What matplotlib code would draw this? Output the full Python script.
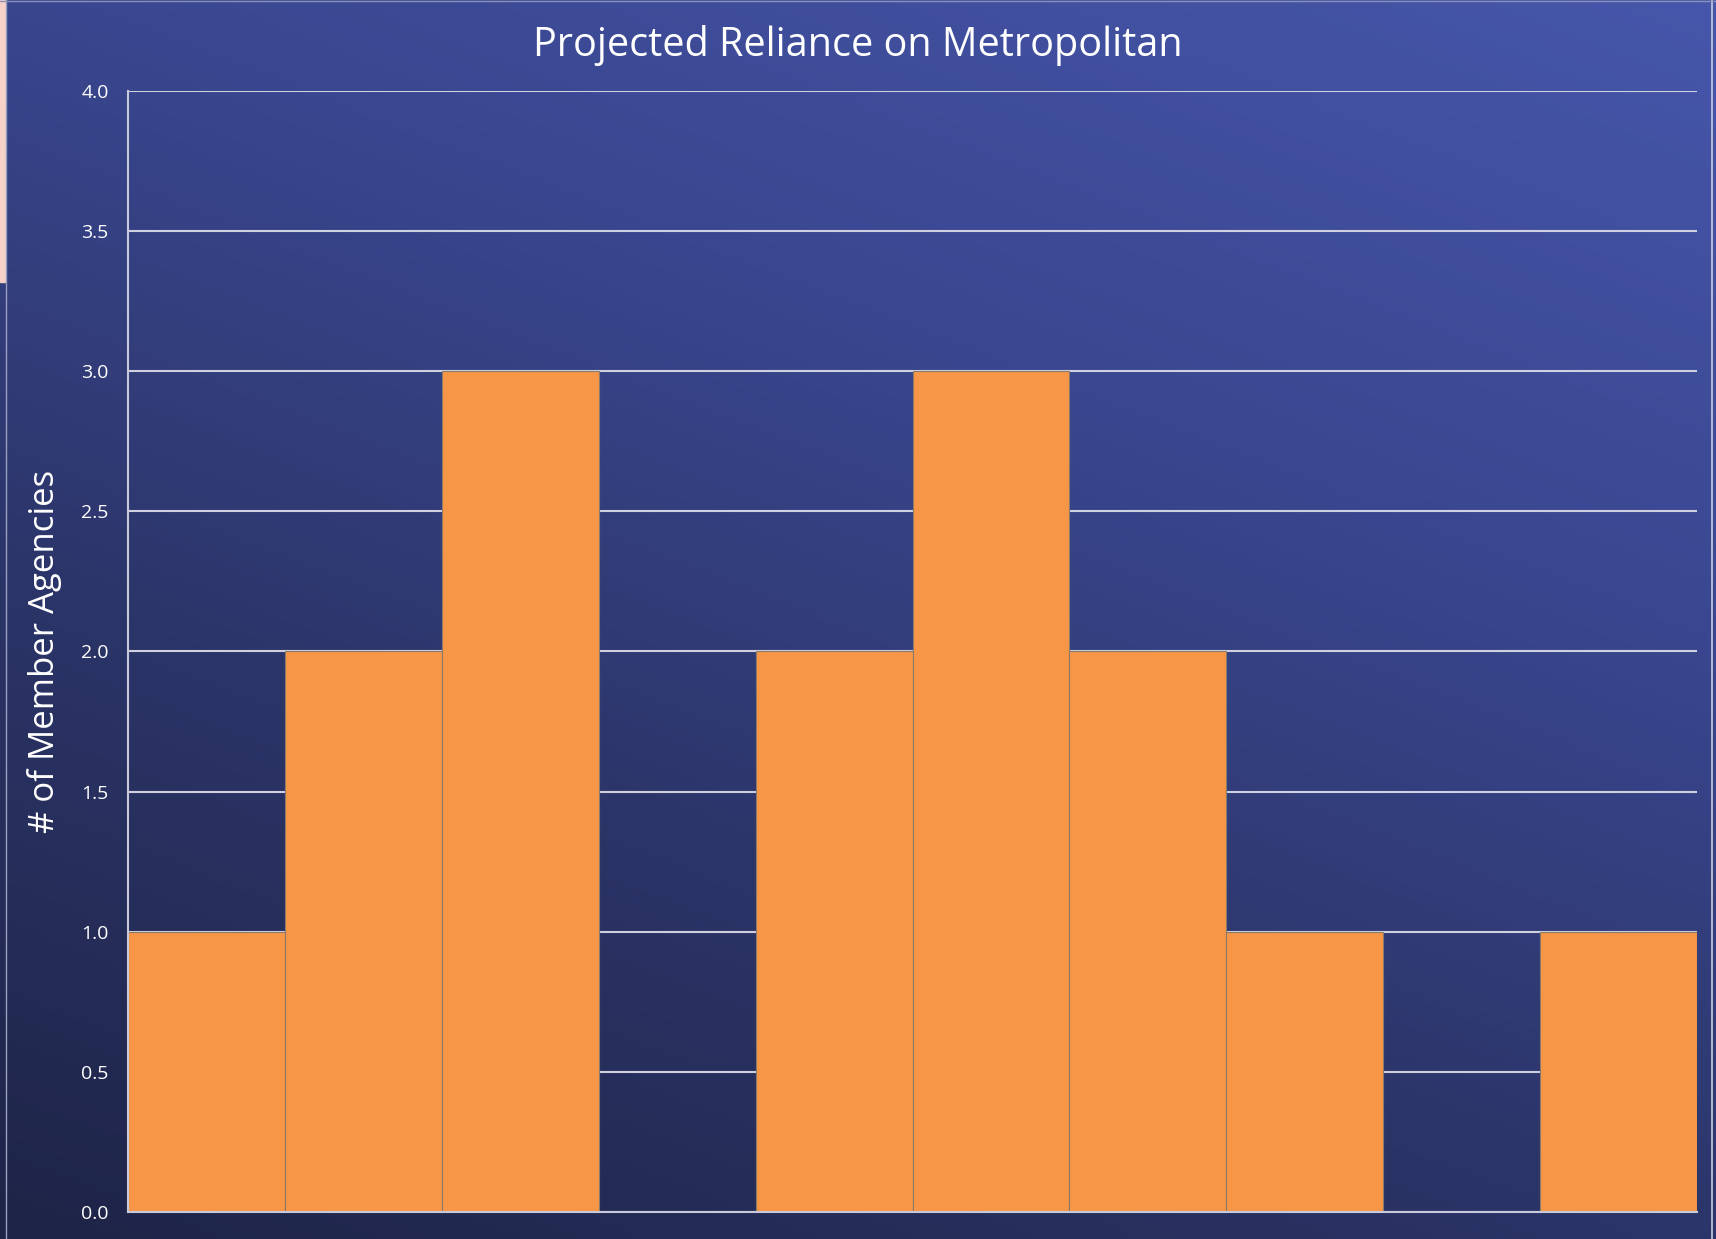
import numpy as np
import matplotlib.pyplot as plt
from matplotlib.colors import LinearSegmentedColormap
from matplotlib.patches import Rectangle

# bin counts of the histogram (10 bins, no x labels)
bins = list(range(10))
counts = [1, 2, 3, 0, 2, 3, 2, 1, 0, 1]
yticks = [0.0, 0.5, 1.0, 1.5, 2.0, 2.5, 3.0, 3.5, 4.0]

plt.rcParams['font.family'] = ['Open Sans', 'DejaVu Sans']

fig = plt.figure(figsize=(17.16, 12.39), dpi=100)

# diagonal gradient background
bg = fig.add_axes([0, 0, 1, 1], zorder=-10)
xx, yy = np.meshgrid(np.linspace(0, 1, 400), np.linspace(0, 1, 300))
grad = 0.65 * yy + 0.35 * xx
cmap = LinearSegmentedColormap.from_list('bg', ['#1e2447', '#2b3467', '#3a4790', '#4656aa'])
bg.imshow(grad, cmap=cmap, origin='lower', aspect='auto', extent=[0, 1, 0, 1])
bg.set_xlim(0, 1)
bg.set_ylim(0, 1)
bg.axis('off')
# thin light frame and pink strip at left edge
bg.add_patch(Rectangle((0, 0.772), 0.003, 0.228, color='#f6d2c8', transform=bg.transAxes))
bg.plot([0.0035, 0.0035], [0, 1], color='#9aa0c0', lw=1)
bg.plot([0.9975, 0.9975], [0, 1], color='#c8cce0', lw=1.2)
bg.plot([0, 1], [0.999, 0.999], color='#8a90b8', lw=1)

ax = fig.add_axes([0.0746, 0.0218, 0.9144, 0.9048])
ax.patch.set_alpha(0)
ax.bar(bins, counts, width=1, align='edge', color='#f79646',
       edgecolor='#8a7a6a', linewidth=0.8, zorder=3)

ax.set_xlim(0, 10)
ax.set_ylim(0, 4)
ax.set_yticks(yticks)
ax.set_yticklabels([f'{v:.1f}' for v in yticks], color='white', fontsize=14)
ax.set_xticks([])
ax.tick_params(axis='y', length=0, pad=14)
ax.yaxis.grid(True, color='#cfd1e0', linewidth=1.5, zorder=0)
ax.set_axisbelow(True)
for s in ['top', 'right']:
    ax.spines[s].set_visible(False)
for s in ['left', 'bottom']:
    ax.spines[s].set_color('#c8cadc')
    ax.spines[s].set_linewidth(1.5)
    ax.spines[s].set_zorder(4)

ax.set_ylabel('# of Member Agencies', color='white', fontsize=25, labelpad=14)
fig.text(0.5, 0.963, 'Projected Reliance on Metropolitan', color='white',
         fontsize=28.5, ha='center', va='center')

fig.savefig('out.png', dpi=100)
